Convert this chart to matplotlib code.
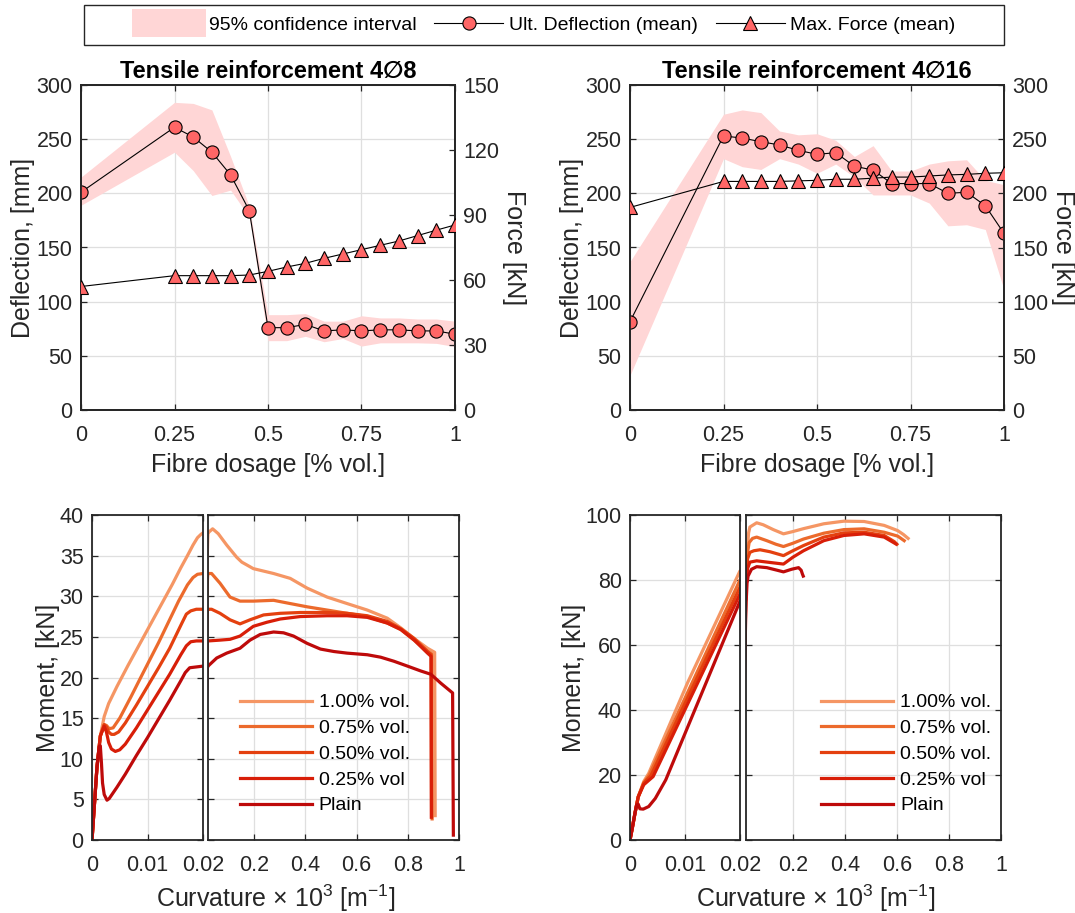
import matplotlib
matplotlib.use("Agg")
import matplotlib.pyplot as plt
import matplotlib.patches as mpatches
from matplotlib.lines import Line2D
from matplotlib.legend_handler import HandlerPatch

plt.rcParams['font.family'] = ['Liberation Sans', 'DejaVu Sans']
plt.rcParams['mathtext.fontset'] = 'custom'
plt.rcParams['mathtext.rm'] = 'Liberation Sans'
plt.rcParams['mathtext.it'] = 'Liberation Sans:italic'

W, H = 1075, 913
DARK = '#262626'
GRID = '#DFDFDF'

# ---- fibre dosage study (top row) ----
dosage = [0, 0.25, 0.3, 0.35, 0.4, 0.45, 0.5, 0.55, 0.6, 0.65, 0.7, 0.75, 0.8, 0.85, 0.9, 0.95, 1.0]

defl_8 = [201, 261, 252, 238, 217, 184, 76, 76, 79, 73, 74, 73, 74, 74, 73, 73, 70]
force_8 = [57, 62, 62, 62, 62, 62.3, 64, 66, 67.7, 70, 72, 74, 76, 78, 80.5, 83, 85.4]
ci_hi_8 = [215, 284, 283, 277, 234, 188, 88, 88, 89, 82, 82, 87, 85, 85, 84, 84, 82]
ci_lo_8 = [189, 238, 221, 198, 203, 178, 64, 64, 68, 63, 66, 59, 62, 62, 62, 61.5, 58.5]

defl_16 = [81.5, 253, 251, 247.7, 244.6, 239.7, 236, 237.5, 225, 221.5, 209, 209, 209, 200, 201, 188.6, 163]
force_16 = [187, 211, 211, 211, 211, 211.5, 212, 213, 213, 214, 215, 215, 216, 217, 217.5, 218.5, 219]
ci_hi_16 = [137, 273, 277, 274.5, 257.5, 254, 255, 249, 234, 244, 220.6, 220.6, 227, 230, 231, 212, 208]
ci_lo_16 = [32, 232, 224.6, 222, 232, 227, 218.5, 227, 215, 198.5, 198.5, 198.5, 191, 170, 171, 166.6, 111]

# ---- moment-curvature curves (bottom row) ----
labels_mk = ['1.00% vol.', '0.75% vol.', '0.50% vol.', '0.25% vol', 'Plain']
colors_mk = ['#F59664', '#EC6A2C', '#E4400F', '#D81E08', '#BE0A0A']

k8_100 = [0, 0.0004, 0.0009, 0.0015, 0.0022, 0.003, 0.0045, 0.0065, 0.0085, 0.0105, 0.0125, 0.0145, 0.016,
          0.0172, 0.0182, 0.019, 0.0196, 0.02, 0.038, 0.06, 0.093, 0.132, 0.152, 0.197, 0.276, 0.341, 0.407,
          0.485, 0.563, 0.642, 0.72, 0.773, 0.825, 0.877, 0.905, 0.907]
m8_100 = [0, 4, 9, 12.8, 15.2, 16.8, 18.9, 21.5, 24, 26.5, 29, 31.5, 33.5, 35, 36.3, 37.2, 37.6, 37.8, 38.3,
          37.7, 36.3, 34.8, 34.2, 33.4, 32.8, 32.2, 31, 29.9, 29.1, 28.3, 27.3, 26.1, 24.8, 23.6, 23.1, 3.0]
k8_075 = [0, 0.0004, 0.0009, 0.0015, 0.0022, 0.0026, 0.0031, 0.0038, 0.005, 0.007, 0.009, 0.012, 0.0156,
          0.0172, 0.0182, 0.019, 0.02, 0.034, 0.067, 0.106, 0.145, 0.197, 0.276, 0.341, 0.407, 0.485, 0.563,
          0.642, 0.72, 0.773, 0.825, 0.877, 0.893, 0.895]
m8_075 = [0, 4, 9, 12.8, 14.2, 14.1, 13.7, 13.8, 15.0, 17.6, 20.3, 24.3, 29.4, 31.4, 32.3, 32.7, 32.8, 32.8,
          31.6, 29.9, 29.4, 29.4, 29.5, 29.1, 28.7, 28.3, 27.9, 27.5, 26.7, 25.9, 24.6, 23.2, 22.9, 2.6]
k8_050 = [0, 0.0004, 0.0009, 0.0015, 0.0022, 0.0026, 0.003, 0.0035, 0.004, 0.0048, 0.006, 0.008, 0.01, 0.012,
          0.014, 0.0162, 0.017, 0.0178, 0.0188, 0.02, 0.034, 0.067, 0.106, 0.145, 0.184, 0.237, 0.302, 0.38,
          0.485, 0.563, 0.642, 0.72, 0.773, 0.825, 0.877, 0.891, 0.893]
m8_050 = [0, 4, 9, 12.8, 14.2, 13.9, 13.3, 13.0, 13.0, 13.3, 14.4, 16.6, 18.9, 21.2, 23.6, 26.7, 27.8, 28.2,
          28.4, 28.4, 28.4, 27.9, 27.1, 26.6, 27.1, 27.7, 27.9, 28.0, 28.0, 27.9, 27.6, 26.9, 26.0, 24.8, 23.2,
          22.8, 2.9]
k8_025 = [0, 0.0004, 0.0009, 0.0015, 0.0022, 0.0026, 0.003, 0.0035, 0.0042, 0.005, 0.006, 0.008, 0.01, 0.012,
          0.014, 0.016, 0.017, 0.0178, 0.0188, 0.02, 0.067, 0.106, 0.145, 0.197, 0.25, 0.302, 0.38, 0.485, 0.563,
          0.642, 0.72, 0.773, 0.825, 0.877, 0.891, 0.892]
m8_025 = [0, 4, 9, 12.8, 14.0, 13.3, 12.0, 11.2, 10.9, 11.1, 11.8, 13.8, 16.0, 18.2, 20.4, 22.8, 23.9, 24.4,
          24.5, 24.5, 24.6, 24.7, 25.1, 26.3, 26.8, 27.2, 27.5, 27.6, 27.6, 27.4, 26.7, 25.9, 24.6, 23.0, 22.6, 2.8]
k8_plain = [0, 0.0004, 0.0009, 0.0013, 0.0015, 0.0017, 0.0019, 0.0022, 0.0027, 0.0031, 0.0037, 0.0045, 0.006,
            0.008, 0.01, 0.012, 0.014, 0.016, 0.0168, 0.0176, 0.0188, 0.02, 0.054, 0.093, 0.145, 0.184, 0.224,
            0.276, 0.315, 0.354, 0.407, 0.459, 0.511, 0.563, 0.642, 0.694, 0.746, 0.799, 0.851, 0.89, 0.929,
            0.975, 0.978]
m8_plain = [0, 4, 9, 11.5, 11.6, 9.5, 7.0, 5.6, 4.9, 5.1, 5.7, 6.5, 8.1, 10.4, 12.6, 14.9, 17.2, 19.6, 20.6,
            21.2, 21.3, 21.4, 22.4, 23.0, 23.6, 24.6, 25.3, 25.6, 25.5, 25.1, 24.2, 23.5, 23.2, 23.0, 22.8, 22.5,
            22.0, 21.4, 20.8, 20.4, 19.3, 18.1, 0.6]

k16_100 = [0, 0.0004, 0.0009, 0.0015, 0.0025, 0.0034, 0.0105, 0.02, 0.0215, 0.0245, 0.03, 0.035, 0.061, 0.086,
           0.125, 0.164, 0.2, 0.241, 0.319, 0.396, 0.474, 0.551, 0.603, 0.625, 0.643]
m16_100 = [0, 3.5, 8.2, 13.3, 18, 20.5, 48.5, 82.8, 84, 88.5, 94.5, 96.3, 97.6, 97, 95.5, 94.2, 94.9, 95.8,
           97.3, 98.1, 98, 96.8, 95.2, 94, 92.8]
k16_075 = [0, 0.0004, 0.0009, 0.0015, 0.0025, 0.0035, 0.02, 0.0215, 0.025, 0.032, 0.045, 0.061, 0.1, 0.135,
           0.164, 0.2, 0.241, 0.319, 0.396, 0.474, 0.551, 0.603, 0.628]
m16_075 = [0, 3.5, 8.2, 13.3, 17.5, 20, 80, 83, 88, 91.5, 92.8, 93.2, 92.1, 91, 90.3, 91.3, 92.6, 94.4, 95.5,
           95.75, 94.7, 93.5, 92.1]
k16_050 = [0, 0.0004, 0.0009, 0.0015, 0.0025, 0.0038, 0.02, 0.0215, 0.026, 0.035, 0.05, 0.074, 0.112, 0.164,
           0.2, 0.241, 0.319, 0.396, 0.474, 0.551, 0.59, 0.6]
m16_050 = [0, 3.5, 8.2, 13.3, 17.5, 19.8, 77.8, 82, 86.5, 88.5, 89, 89.3, 88.7, 87.5, 89, 90.6, 93.2, 94.5,
           94.7, 93.7, 91.8, 91.0]
k16_025 = [0, 0.0004, 0.0009, 0.0015, 0.0025, 0.0042, 0.02, 0.0215, 0.026, 0.035, 0.061, 0.112, 0.164, 0.2,
           0.241, 0.319, 0.396, 0.474, 0.551, 0.596]
m16_025 = [0, 3.5, 8.2, 13.3, 17, 19.5, 75.7, 79, 83.5, 85.5, 85.9, 85.4, 84.9, 87, 89, 92.1, 93.7, 94.2,
           93.2, 91.1]
k16_plain = [0, 0.0004, 0.0009, 0.0012, 0.0015, 0.0018, 0.0024, 0.0034, 0.0046, 0.0065, 0.02, 0.021, 0.024,
             0.028, 0.041, 0.061, 0.1, 0.14, 0.164, 0.195, 0.222, 0.232, 0.237, 0.24]
m16_plain = [0, 3.5, 8.2, 10.8, 11, 9.6, 9.5, 10.3, 12.8, 18.5, 73.5, 74, 79, 81.2, 83.3, 84.1, 83.8, 83,
             82.5, 83.3, 83.8, 83, 81.8, 81.2]

curves_8 = [(k8_100, m8_100), (k8_075, m8_075), (k8_050, m8_050), (k8_025, m8_025), (k8_plain, m8_plain)]
curves_16 = [(k16_100, m16_100), (k16_075, m16_075), (k16_050, m16_050), (k16_025, m16_025),
             (k16_plain, m16_plain)]


def box(x0, y0, x1, y1):
    # pixel box -> figure fraction rect
    return [x0 / W, 1 - y1 / H, (x1 - x0) / W, (y1 - y0) / H]


def style_spines(ax):
    for s in ax.spines.values():
        s.set_color(DARK)
        s.set_linewidth(1.3)


fig = plt.figure(figsize=(W / 100, H / 100), dpi=100)

TICK_FS = 15.5
LABEL_FS = 18


def dosage_panel(rect, title, defl, force, ci_lo, ci_hi, fmax, fstep):
    ax = fig.add_axes(rect)
    ax.fill_between(dosage, ci_lo, ci_hi, color='#FFD6D6', lw=0, zorder=1)
    ax.plot(dosage, defl, color='black', lw=0.8, marker='o', ms=9.5, mfc='#FF6666', mec='black', mew=0.8,
            zorder=3)
    ax.set_xlim(0, 1)
    ax.set_ylim(0, 300)
    ax.set_xticks([0, 0.25, 0.5, 0.75, 1])
    ax.set_xticklabels(['0', '0.25', '0.5', '0.75', '1'])
    ax.set_yticks(range(0, 301, 50))
    ax.grid(True, color=GRID, lw=0.9)
    ax.set_axisbelow(True)
    ax.tick_params(direction='in', length=4, width=0.9, top=True, right=False, labelsize=TICK_FS,
                   colors=DARK, pad=6)
    ax.tick_params(axis='x', pad=11)
    ax.set_xlabel('Fibre dosage [% vol.]', fontsize=LABEL_FS, color=DARK, labelpad=5)
    ax.set_ylabel('Deflection, [mm]', fontsize=LABEL_FS, color=DARK, labelpad=1)
    ax.set_title(title, fontsize=17, fontweight='bold', pad=5)
    style_spines(ax)

    ax2 = ax.twinx()
    ax2.plot(dosage, force, color='black', lw=0.8, marker='^', ms=9.5, mfc='#FF6666', mec='black', mew=0.8,
             zorder=3)
    ax2.set_ylim(0, fmax)
    ax2.set_yticks(range(0, fmax + 1, fstep))
    ax2.tick_params(direction='in', length=4, width=0.9, labelsize=TICK_FS, colors=DARK, pad=6)
    ax2.set_ylabel('Force [kN]', fontsize=LABEL_FS, color=DARK, rotation=270, labelpad=19)
    style_spines(ax2)
    return ax


dosage_panel(box(81, 85, 455, 410), 'Tensile reinforcement 4\u22058', defl_8, force_8, ci_lo_8, ci_hi_8, 150, 30)
dosage_panel(box(630, 85, 1004, 410), 'Tensile reinforcement 4\u220516', defl_16, force_16, ci_lo_16, ci_hi_16,
             300, 50)


def moment_panel(left_px, break_px, right_px, curves, ymax, ystep, leg_x):
    ax_l = fig.add_axes(box(left_px[0], 515, left_px[1], 840))
    ax_r = fig.add_axes(box(break_px, 515, right_px, 840))
    lines = []
    for (k, m), c, lab in zip(curves, colors_mk, labels_mk):
        ax_l.plot(k, m, color=c, lw=2.3, solid_joinstyle='round')
        ln, = ax_r.plot(k, m, color=c, lw=2.3, label=lab, solid_joinstyle='round')
        lines.append(ln)
    for a in (ax_l, ax_r):
        a.set_ylim(0, ymax)
        a.set_yticks(range(0, ymax + 1, ystep))
        a.grid(True, color=GRID, lw=0.9)
        a.set_axisbelow(True)
        a.tick_params(direction='in', length=4, width=0.9, top=True, right=True, labelsize=TICK_FS,
                      colors=DARK, pad=6)
        a.tick_params(axis='x', pad=11)
        style_spines(a)
    ax_l.set_xlim(0, 0.02)
    ax_l.set_xticks([0, 0.01, 0.02])
    ax_l.set_xticklabels(['0', '0.01', '0.02'])
    ax_r.set_xlim(0.02, 1)
    ax_r.set_xticks([0.2, 0.4, 0.6, 0.8, 1])
    ax_r.set_xticklabels(['0.2', '0.4', '0.6', '0.8', '1'])
    ax_r.tick_params(labelleft=False)
    ax_l.set_ylabel('Moment, [kN]', fontsize=LABEL_FS, color=DARK, labelpad=0)
    fig.text((left_px[0] + right_px) / 2 / W, 1 - 898 / H, r'Curvature $\times$ 10$^3$ [m$^{-1}$]',
             ha='center', va='center', fontsize=LABEL_FS, color=DARK)
    ax_r.legend(handles=lines, loc='upper left', bbox_to_anchor=(leg_x, 0.45), frameon=False,
                fontsize=14, handlelength=3.7, handletextpad=0.35, labelspacing=0.42, borderpad=0,
                borderaxespad=0)


moment_panel((92, 203), 208, 459, curves_8, 40, 5, 0.127)
moment_panel((630, 740), 746, 1001, curves_16, 100, 20, 0.295)


# legend strip across the top
def tall_patch(legend, orig_handle, xdescent, ydescent, width, height, fontsize):
    return mpatches.Rectangle((-xdescent - 2, -ydescent - 5), width + 4, height + 10)


ci_handle = mpatches.Patch(color='#FFD6D6', lw=0)
defl_handle = Line2D([], [], color='black', lw=0.8, marker='o', ms=9.5, mfc='#FF6666', mec='black', mew=0.8)
force_handle = Line2D([], [], color='black', lw=0.8, marker='^', ms=9.5, mfc='#FF6666', mec='black', mew=0.8)
fig.legend([ci_handle, defl_handle, force_handle],
           ['95% confidence interval', 'Ult. Deflection (mean)', 'Max. Force (mean)'],
           loc='center', bbox_to_anchor=(545 / W, 1 - 25 / H), ncol=3, frameon=False, fontsize=14,
           handlelength=3.55, handletextpad=0.3, columnspacing=0.9,
           handler_map={mpatches.Patch: HandlerPatch(patch_func=tall_patch)})
fig.patches.append(mpatches.Rectangle((84 / W, 1 - 45 / H), 920 / W, 40 / H, transform=fig.transFigure,
                                      fill=False, edgecolor=DARK, lw=1.0))

fig.savefig('out.png', dpi=100)
